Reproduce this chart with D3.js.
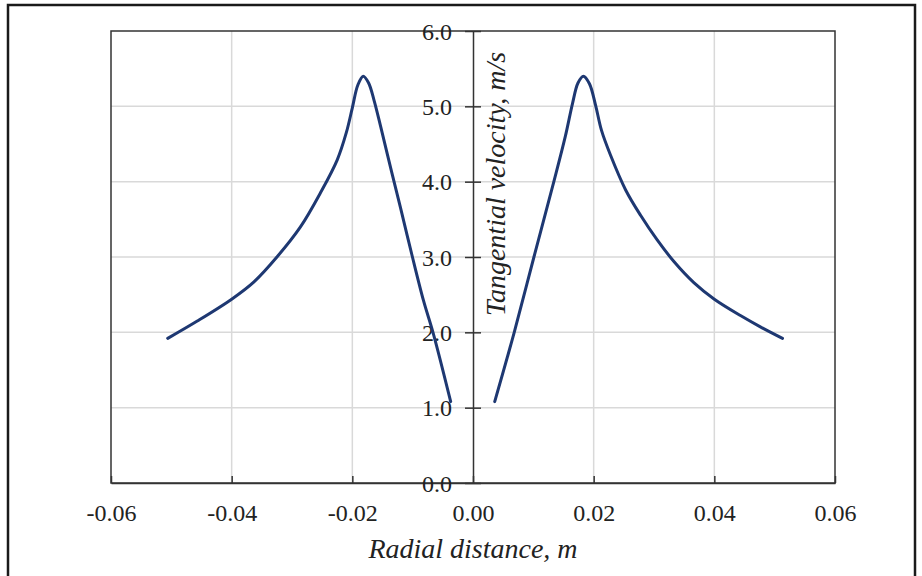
<!DOCTYPE html>
<html>
<head>
<meta charset="utf-8">
<script src="https://cdn.jsdelivr.net/npm/d3@7"></script>
<style>
  body { margin: 0; background: #fff; }
  text { font-family: "Liberation Serif", "Times New Roman", serif; fill: #222; }
</style>
</head>
<body>
<div id="chart"></div>
<script>
// Tangential velocity profile, two branches either side of the axis
const leftX = [-0.0506, -0.0457, -0.0400, -0.0363, -0.0325, -0.0286, -0.0253, -0.0225, -0.0210,
  -0.0200, -0.0191, -0.0182, -0.0173, -0.0164, -0.0153, -0.0137, -0.0120, -0.0101, -0.0082, -0.0066, -0.0037];
const leftV = [1.92, 2.15, 2.44, 2.67, 3.00, 3.40, 3.85, 4.29, 4.65,
  4.98, 5.28, 5.40, 5.31, 5.08, 4.73, 4.20, 3.65, 3.02, 2.42, 1.99, 1.08];

const rightX = [0.0036, 0.0068, 0.0101, 0.0134, 0.0153, 0.0165, 0.0174, 0.0183, 0.0193, 0.0203,
  0.0213, 0.0228, 0.0253, 0.0278, 0.0305, 0.0333, 0.0366, 0.0400, 0.0444, 0.0477, 0.0513];
const rightV = [1.08, 1.99, 3.00, 4.00, 4.60, 5.04, 5.31, 5.40, 5.30, 5.02,
  4.68, 4.35, 3.89, 3.55, 3.23, 2.94, 2.66, 2.44, 2.22, 2.07, 1.92];

const xTicks = [-0.06, -0.04, -0.02, 0.00, 0.02, 0.04, 0.06];
const yTicks = [0, 1, 2, 3, 4, 5, 6];

const width = 922;
const height = 576;
const margin = { top: 31, right: 87, bottom: 93, left: 111 };

const svg = d3.select("#chart")
  .append("svg")
  .attr("width", width)
  .attr("height", height);

// outer frame
svg.append("rect")
  .attr("x", 8).attr("y", 5)
  .attr("width", 907).attr("height", 620)
  .style("fill", "none")
  .style("stroke", "#1a1a1a")
  .style("stroke-width", 2.5);

const x = d3.scaleLinear().domain([-0.06, 0.06]).range([margin.left, width - margin.right]);
const y = d3.scaleLinear().domain([0, 6]).range([height - margin.bottom, margin.top]);

// hyphen instead of unicode minus, like the original
const fmtX = d => d3.format(".2f")(d).replace("\u2212", "-");

// gridlines
svg.append("g")
  .selectAll("line")
  .data(xTicks.filter(d => d !== 0 && Math.abs(d) < 0.06))
  .enter()
  .append("line")
  .attr("x1", d => x(d)).attr("x2", d => x(d))
  .attr("y1", y(0)).attr("y2", y(6))
  .style("stroke", "#d9d9d9")
  .style("stroke-width", 1.5);

svg.append("g")
  .selectAll("line")
  .data(yTicks.filter(d => d > 0 && d < 6))
  .enter()
  .append("line")
  .attr("x1", x(-0.06)).attr("x2", x(0.06))
  .attr("y1", d => y(d)).attr("y2", d => y(d))
  .style("stroke", "#d9d9d9")
  .style("stroke-width", 1.5);

// plot border
svg.append("rect")
  .attr("x", x(-0.06)).attr("y", y(6))
  .attr("width", x(0.06) - x(-0.06))
  .attr("height", y(0) - y(6))
  .style("fill", "none")
  .style("stroke", "#333")
  .style("stroke-width", 1.5);

// x axis (bottom) with inward ticks
const xAxis = svg.append("g")
  .attr("transform", `translate(0,${y(0)})`)
  .call(d3.axisBottom(x).tickValues(xTicks).tickSizeInner(-7).tickSizeOuter(0)
    .tickFormat(fmtX));
xAxis.select(".domain").style("stroke", "#333").style("stroke-width", 1.5);
xAxis.selectAll(".tick line").style("stroke", "#333").style("stroke-width", 1.5);
xAxis.selectAll(".tick text")
  .attr("y", 38)
  .attr("dy", 0)
  .style("font-size", "24px")
  .style("font-family", "Liberation Serif, serif")
  .style("fill", "#222");

// y axis at x = 0, ticks cross the line
const yAxis = svg.append("g")
  .attr("transform", `translate(${x(0)},0)`)
  .call(d3.axisLeft(y).tickValues(yTicks).tickSizeInner(8).tickSizeOuter(0)
    .tickFormat(d3.format(".1f")));
yAxis.select(".domain").style("stroke", "#333").style("stroke-width", 1.5);
yAxis.selectAll(".tick line")
  .attr("x1", 8)
  .style("stroke", "#333").style("stroke-width", 1.5);
yAxis.selectAll(".tick text")
  .attr("x", -21)
  .attr("dy", "0.34em")
  .style("font-size", "24px")
  .style("font-family", "Liberation Serif, serif")
  .style("fill", "#222");

// axis titles
svg.append("text")
  .attr("x", x(0))
  .attr("y", 558)
  .attr("text-anchor", "middle")
  .style("font-size", "28px")
  .style("font-style", "italic")
  .text("Radial distance, m");

svg.append("text")
  .attr("transform", `translate(505,184) rotate(-90)`)
  .attr("text-anchor", "middle")
  .style("font-size", "28px")
  .style("font-style", "italic")
  .text("Tangential velocity, m/s");

// curves
const line = d3.line()
  .x(d => x(d[0]))
  .y(d => y(d[1]))
  .curve(d3.curveCatmullRom.alpha(0.5));

const series = [
  d3.zip(leftX, leftV),
  d3.zip(rightX, rightV)
];

svg.append("g")
  .selectAll("path")
  .data(series)
  .enter()
  .append("path")
  .attr("d", line)
  .style("fill", "none")
  .style("stroke", "#1e3872")
  .style("stroke-width", 3)
  .style("stroke-linejoin", "round")
  .style("stroke-linecap", "round");
</script>
</body>
</html>
